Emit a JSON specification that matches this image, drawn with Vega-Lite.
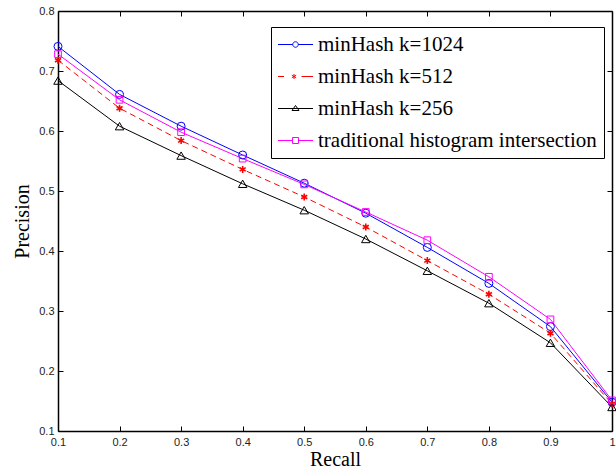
{
  "$schema": "https://vega.github.io/schema/vega-lite/v6.json",
  "width": 554,
  "height": 420,
  "autosize": "none",
  "padding": {"left": 58, "top": 11, "right": 4, "bottom": 37},
  "background": "white",
  "config": {
    "view": {"stroke": null},
    "axis": {
      "domainColor": "black",
      "domainWidth": 1.5,
      "tickColor": "black",
      "tickWidth": 1,
      "tickSize": -5,
      "grid": false,
      "labelFont": "Liberation Sans",
      "labelFontSize": 11,
      "labelColor": "#222222",
      "titleFont": "Liberation Serif",
      "titleFontSize": 20,
      "titleFontWeight": "normal",
      "titleColor": "black"
    }
  },
  "datasets": {
    "pr": [
      {"recall": 0.1, "precision": 0.741, "method": "minHash k=1024"},
      {"recall": 0.2, "precision": 0.661, "method": "minHash k=1024"},
      {"recall": 0.3, "precision": 0.608, "method": "minHash k=1024"},
      {"recall": 0.4, "precision": 0.560, "method": "minHash k=1024"},
      {"recall": 0.5, "precision": 0.513, "method": "minHash k=1024"},
      {"recall": 0.6, "precision": 0.463, "method": "minHash k=1024"},
      {"recall": 0.7, "precision": 0.406, "method": "minHash k=1024"},
      {"recall": 0.8, "precision": 0.346, "method": "minHash k=1024"},
      {"recall": 0.9, "precision": 0.274, "method": "minHash k=1024"},
      {"recall": 1.0, "precision": 0.148, "method": "minHash k=1024"},
      {"recall": 0.1, "precision": 0.718, "method": "minHash k=512"},
      {"recall": 0.2, "precision": 0.638, "method": "minHash k=512"},
      {"recall": 0.3, "precision": 0.584, "method": "minHash k=512"},
      {"recall": 0.4, "precision": 0.536, "method": "minHash k=512"},
      {"recall": 0.5, "precision": 0.490, "method": "minHash k=512"},
      {"recall": 0.6, "precision": 0.440, "method": "minHash k=512"},
      {"recall": 0.7, "precision": 0.384, "method": "minHash k=512"},
      {"recall": 0.8, "precision": 0.328, "method": "minHash k=512"},
      {"recall": 0.9, "precision": 0.263, "method": "minHash k=512"},
      {"recall": 1.0, "precision": 0.145, "method": "minHash k=512"},
      {"recall": 0.1, "precision": 0.684, "method": "minHash k=256"},
      {"recall": 0.2, "precision": 0.608, "method": "minHash k=256"},
      {"recall": 0.3, "precision": 0.559, "method": "minHash k=256"},
      {"recall": 0.4, "precision": 0.512, "method": "minHash k=256"},
      {"recall": 0.5, "precision": 0.468, "method": "minHash k=256"},
      {"recall": 0.6, "precision": 0.420, "method": "minHash k=256"},
      {"recall": 0.7, "precision": 0.367, "method": "minHash k=256"},
      {"recall": 0.8, "precision": 0.313, "method": "minHash k=256"},
      {"recall": 0.9, "precision": 0.247, "method": "minHash k=256"},
      {"recall": 1.0, "precision": 0.140, "method": "minHash k=256"},
      {"recall": 0.1, "precision": 0.728, "method": "traditional histogram intersection"},
      {"recall": 0.2, "precision": 0.652, "method": "traditional histogram intersection"},
      {"recall": 0.3, "precision": 0.598, "method": "traditional histogram intersection"},
      {"recall": 0.4, "precision": 0.554, "method": "traditional histogram intersection"},
      {"recall": 0.5, "precision": 0.511, "method": "traditional histogram intersection"},
      {"recall": 0.6, "precision": 0.465, "method": "traditional histogram intersection"},
      {"recall": 0.7, "precision": 0.418, "method": "traditional histogram intersection"},
      {"recall": 0.8, "precision": 0.357, "method": "traditional histogram intersection"},
      {"recall": 0.9, "precision": 0.286, "method": "traditional histogram intersection"},
      {"recall": 1.0, "precision": 0.151, "method": "traditional histogram intersection"}
    ]
  },
  "data": {"name": "pr"},
  "resolve": {"axis": {"x": "independent", "y": "independent"}},
  "layer": [
    {
      "encoding": {
        "x": {
          "field": "recall", "type": "quantitative",
          "scale": {"domain": [0.1, 1.0], "nice": false, "zero": false},
          "axis": {"orient": "bottom", "title": "Recall", "values": [0.1, 0.2, 0.3, 0.4, 0.5, 0.6, 0.7, 0.8, 0.9, 1.0], "format": ".1~f", "labelPadding": 10, "titlePadding": 2, "labelFlush": false}
        },
        "y": {
          "field": "precision", "type": "quantitative",
          "scale": {"domain": [0.1, 0.8], "nice": false, "zero": false},
          "axis": {"orient": "left", "title": "Precision", "values": [0.1, 0.2, 0.3, 0.4, 0.5, 0.6, 0.7, 0.8], "format": ".1~f", "labelPadding": 9, "titlePadding": 6, "labelFlush": false}
        }
      },
      "layer": [
        {
          "mark": {"type": "point", "filled": false, "opacity": 0},
          "encoding": {
            "color": {
              "field": "method", "type": "nominal",
              "scale": {
                "domain": ["minHash k=1024", "minHash k=512", "minHash k=256", "traditional histogram intersection"],
                "range": ["#0000ff", "#ff0000", "#000000", "#ff00ff"]
              },
              "legend": {
                "title": null,
                "orient": "none",
                "legendX": 213,
                "legendY": 16,
                "strokeColor": "black",
                "fillColor": "white",
                "padding": 7,
                "cornerRadius": 0,
                "symbolSize": 100,
                "symbolOpacity": 1,
                "symbolStrokeWidth": 1,
                "symbolOffset": 7,
                "labelOffset": 12,
                "labelFont": "Liberation Serif",
                "labelFontSize": 21,
                "labelColor": "black",
                "labelLimit": 400,
                "rowPadding": 10
              }
            },
            "shape": {
              "field": "method", "type": "nominal",
              "scale": {
                "domain": ["minHash k=1024", "minHash k=512", "minHash k=256", "traditional histogram intersection"],
                "range": [
                  "M-3.5,0L-0.55,0M0.55,0L3.5,0M-0.55,0A0.55,0.55 0 1,0 0.55,0A0.55,0.55 0 1,0 -0.55,0",
                  "M-3.5,0L-2.3,0M1.2,0L3.5,0M-0.3,-0.5L-0.3,0.5M-0.73,-0.25L0.13,0.25M-0.73,0.25L0.13,-0.25",
                  "M-3.5,0L3.5,0M0,-0.6L0.7,0.4L-0.7,0.4Z",
                  "M-3.5,0L-0.6,0M0.6,0L3.5,0M-0.6,-0.6L0.6,-0.6L0.6,0.6L-0.6,0.6Z"
                ]
              }
            }
          }
        },
        {
          "transform": [{"filter": "datum.method == 'minHash k=1024'"}],
          "mark": {"type": "line", "stroke": "#0000ff", "strokeWidth": 1},
          "encoding": {}
        },
        {
          "transform": [{"filter": "datum.method == 'minHash k=512'"}],
          "mark": {"type": "line", "stroke": "#ff0000", "strokeWidth": 1, "strokeDash": [6, 4]},
          "encoding": {}
        },
        {
          "transform": [{"filter": "datum.method == 'minHash k=256'"}],
          "mark": {"type": "line", "stroke": "#000000", "strokeWidth": 1},
          "encoding": {}
        },
        {
          "transform": [{"filter": "datum.method == 'traditional histogram intersection'"}],
          "mark": {"type": "line", "stroke": "#ff00ff", "strokeWidth": 1},
          "encoding": {}
        },
        {
          "transform": [{"filter": "datum.method == 'minHash k=1024'"}],
          "mark": {"type": "point", "shape": "circle", "size": 64, "filled": false, "stroke": "#0000ff", "strokeWidth": 1, "opacity": 1}
        },
        {
          "transform": [{"filter": "datum.method == 'minHash k=512'"}],
          "mark": {"type": "point", "shape": "M0,-1L0,1M-0.87,-0.5L0.87,0.5M-0.87,0.5L0.87,-0.5", "size": 49, "filled": false, "stroke": "#ff0000", "strokeWidth": 1.6, "opacity": 1}
        },
        {
          "transform": [{"filter": "datum.method == 'minHash k=256'"}],
          "mark": {"type": "point", "shape": "triangle-up", "size": 72, "filled": false, "stroke": "#000000", "strokeWidth": 1, "opacity": 1}
        },
        {
          "transform": [{"filter": "datum.method == 'traditional histogram intersection'"}],
          "mark": {"type": "point", "shape": "square", "size": 45, "filled": false, "stroke": "#ff00ff", "strokeWidth": 1, "opacity": 1}
        }
      ]
    },
    {
      "mark": {"type": "point", "opacity": 0},
      "encoding": {
        "x": {
          "field": "recall", "type": "quantitative",
          "axis": {"orient": "top", "title": null, "labels": false, "values": [0.1, 0.2, 0.3, 0.4, 0.5, 0.6, 0.7, 0.8, 0.9, 1.0]}
        },
        "y": {
          "field": "precision", "type": "quantitative",
          "axis": {"orient": "right", "title": null, "labels": false, "values": [0.1, 0.2, 0.3, 0.4, 0.5, 0.6, 0.7, 0.8]}
        }
      }
    }
  ]
}
